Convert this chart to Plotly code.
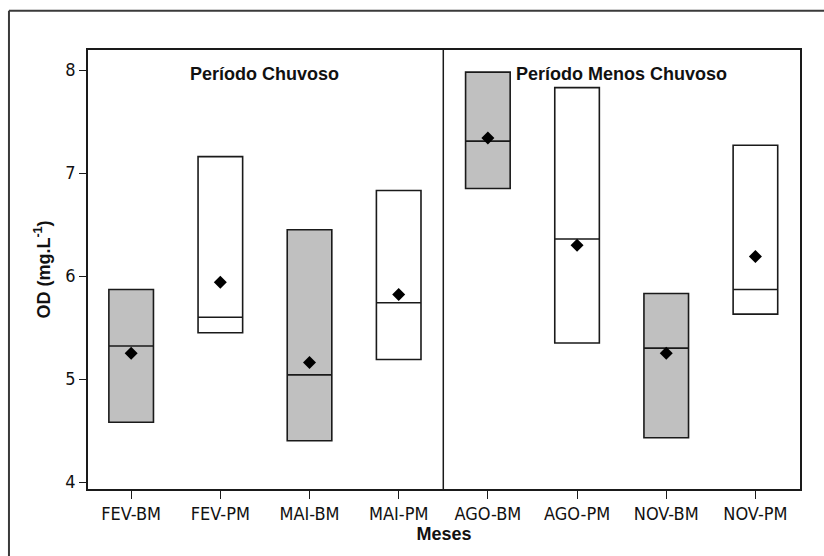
import plotly.graph_objects as go

# Dissolved oxygen per month and site
categories = ["FEV-BM", "FEV-PM", "MAI-BM", "MAI-PM", "AGO-BM", "AGO-PM", "NOV-BM", "NOV-PM"]
od_low = [4.58, 5.45, 4.40, 5.19, 6.85, 5.35, 4.43, 5.63]
od_high = [5.87, 7.16, 6.45, 6.83, 7.98, 7.83, 5.83, 7.27]
od_median = [5.32, 5.60, 5.04, 5.74, 7.31, 6.36, 5.30, 5.87]
od_mean = [5.25, 5.94, 5.16, 5.82, 7.34, 6.30, 5.25, 6.19]
y_ticks = [4, 5, 6, 7, 8]
periods = ["Período Chuvoso", "Período Menos Chuvoso"]

LINE = "#1a1a1a"
GREY = "#c0c0c0"
TICK_FONT = dict(family="Liberation Sans Narrow, Arial Narrow, DejaVu Sans Condensed, Arial, sans-serif",
                 size=18, color="#111111")
BOLD_FAMILY = "Liberation Sans, Arial, sans-serif"

xpos = list(range(len(categories)))

fig = go.Figure()

# BM sites in grey, PM sites in white
for fill, parity in ((GREY, 0), ("white", 1)):
    idx = [i for i in xpos if i % 2 == parity]
    fig.add_trace(go.Box(
        x=[xpos[i] for i in idx],
        q1=[od_low[i] for i in idx],
        q3=[od_high[i] for i in idx],
        lowerfence=[od_low[i] for i in idx],
        upperfence=[od_high[i] for i in idx],
        median=[od_median[i] for i in idx],
        width=0.5,
        fillcolor=fill,
        line=dict(color=LINE, width=1.6),
        boxpoints=False,
        hoverinfo="skip",
        showlegend=False,
    ))

# Mean markers
fig.add_trace(go.Scatter(
    x=xpos, y=od_mean, mode="markers",
    marker=dict(symbol="diamond", size=10, color="black"),
    hoverinfo="skip", showlegend=False,
))

# Divider between the two seasons
fig.add_shape(type="line", xref="x", yref="paper", x0=3.5, x1=3.5, y0=0, y1=1,
              line=dict(color=LINE, width=1.5))

# Outer frame: left and top edges (the others run off the page)
frame_left, frame_top = -0.111, 1.0895
fig.add_shape(type="line", xref="paper", yref="paper",
              x0=frame_left, x1=frame_left, y0=-0.3, y1=frame_top,
              line=dict(color="#3a3a3a", width=2))
fig.add_shape(type="line", xref="paper", yref="paper",
              x0=frame_left, x1=1.2, y0=frame_top, y1=frame_top,
              line=dict(color="#3a3a3a", width=2))

# Season labels inside the top of each panel
for label, xc in zip(periods, (1.5, 5.5)):
    fig.add_annotation(x=xc, xref="x", y=1 - (62.3 - 50) / 439, yref="paper",
                       text="<b>%s</b>" % label, showarrow=False,
                       font=dict(family=BOLD_FAMILY, size=18, color="#111111"))

fig.update_layout(
    width=824, height=556,
    margin=dict(l=88, r=24, t=50, b=67),
    paper_bgcolor="white", plot_bgcolor="white",
    boxmode="overlay",
    xaxis=dict(
        range=[-0.484, 7.5], tickmode="array", tickvals=xpos, ticktext=categories,
        showgrid=False, zeroline=False, showline=True, mirror=True,
        linecolor=LINE, linewidth=1.5, ticks="outside", ticklen=8, tickwidth=1.3,
        tickcolor=LINE, tickfont=TICK_FONT,
        title=dict(text="<b>Meses</b>", standoff=2,
                   font=dict(family=BOLD_FAMILY, size=18, color="#111111")),
    ),
    yaxis=dict(
        range=[3.932, 8.195], tickmode="array", tickvals=y_ticks,
        showgrid=False, zeroline=False, showline=True, mirror=True,
        linecolor=LINE, linewidth=1.5, ticks="outside", ticklen=7, tickwidth=1.3,
        tickcolor=LINE, tickfont=TICK_FONT,
        title=dict(text="<b>OD (mg.L<sup>-1</sup>)</b>", standoff=10,
                   font=dict(family=BOLD_FAMILY, size=18, color="#111111")),
    ),
)

fig.write_html("out.html")
